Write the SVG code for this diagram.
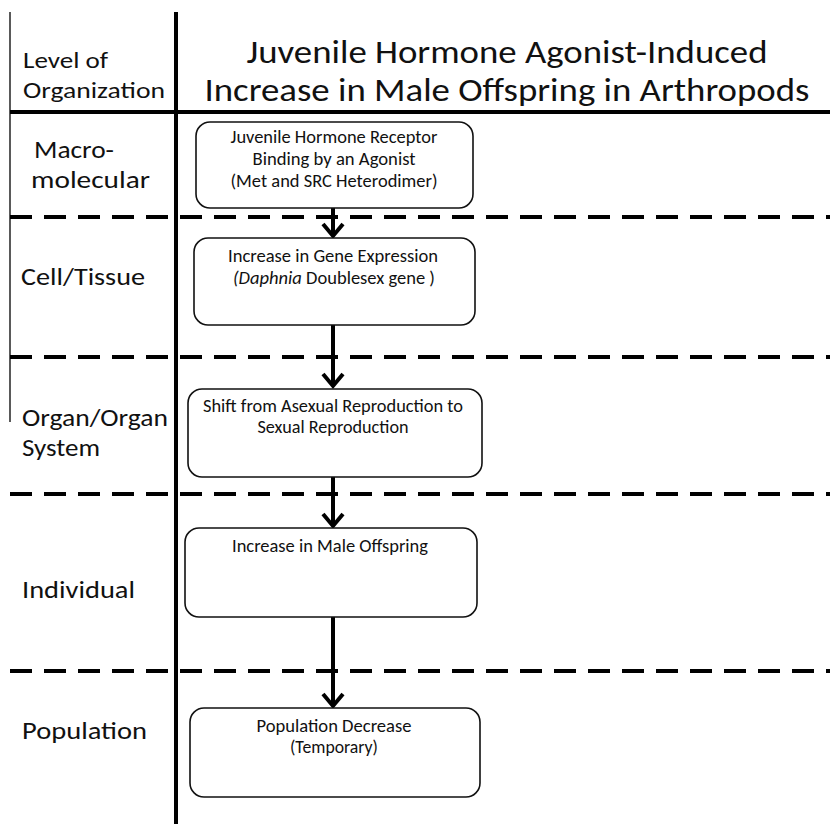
<svg xmlns="http://www.w3.org/2000/svg" width="830" height="824" viewBox="0 0 830 824">
  <style>
    text { font-family: Carlito, Lato, "Noto Sans", sans-serif; fill: #111; }
    .title { font-size: 33px; text-anchor: middle; }
    .level { font-size: 24px; }
    .head { font-size: 23px; }
    .node rect { fill: #fff; stroke: #111; stroke-width: 1.6; }
    .node text { font-size: 17.5px; text-anchor: middle; }
    .rule { stroke: #000; stroke-width: 4; fill: none; }
    .dash { stroke: #000; stroke-width: 4; stroke-dasharray: 22 12; fill: none; }
    .conn line { stroke: #000; stroke-width: 4; }
    .conn path { stroke: #000; stroke-width: 4; fill: none; stroke-linejoin: miter; }
  </style>
  <rect width="830" height="824" fill="#fff"/>

  <!-- table frame -->
  <g id="frame">
    <line x1="10" y1="12" x2="10" y2="422" stroke="#000" stroke-width="1.3"/>
    <line class="rule" x1="176" y1="12" x2="176" y2="824"/>
    <line class="rule" x1="10" y1="112" x2="830" y2="112"/>
    <line class="dash" x1="10" y1="217" x2="830" y2="217"/>
    <line class="dash" x1="10" y1="357" x2="830" y2="357"/>
    <line class="dash" x1="10" y1="494" x2="830" y2="494"/>
    <line class="dash" x1="10" y1="671" x2="830" y2="671"/>
  </g>

  <!-- column headings and title -->
  <g id="header">
    <text class="head" x="23" y="68" textLength="85" lengthAdjust="spacingAndGlyphs">Level of</text>
    <text class="head" x="23" y="98" textLength="142" lengthAdjust="spacingAndGlyphs">Organization</text>
    <text class="title" x="507" y="63" textLength="521" lengthAdjust="spacingAndGlyphs">Juvenile Hormone Agonist-Induced</text>
    <text class="title" x="507" y="101" textLength="605" lengthAdjust="spacingAndGlyphs">Increase in Male Offspring in Arthropods</text>
  </g>

  <!-- level labels -->
  <g id="levels">
    <text class="level" x="34" y="158" textLength="80" lengthAdjust="spacingAndGlyphs">Macro-</text>
    <text class="level" x="31" y="188" textLength="119" lengthAdjust="spacingAndGlyphs">molecular</text>
    <text class="level" x="21" y="285" textLength="124" lengthAdjust="spacingAndGlyphs">Cell/Tissue</text>
    <text class="level" x="22" y="426" textLength="146" lengthAdjust="spacingAndGlyphs">Organ/Organ</text>
    <text class="level" x="22" y="456" textLength="78" lengthAdjust="spacingAndGlyphs">System</text>
    <text class="level" x="22" y="598" textLength="113" lengthAdjust="spacingAndGlyphs">Individual</text>
    <text class="level" x="22" y="739" textLength="125" lengthAdjust="spacingAndGlyphs">Population</text>
  </g>

  <!-- connectors -->
  <g id="connectors" class="conn">
    <line x1="333" y1="208" x2="333" y2="236"/>
    <path d="M323 224 L333 236 L343 224"/>
    <line x1="333" y1="325" x2="333" y2="386"/>
    <path d="M323 374 L333 386 L343 374"/>
    <line x1="333" y1="477" x2="333" y2="526"/>
    <path d="M323 514 L333 526 L343 514"/>
    <line x1="333" y1="617" x2="333" y2="706"/>
    <path d="M323 694 L333 706 L343 694"/>
  </g>

  <!-- nodes -->
  <g id="n-receptor" class="node">
    <rect x="196" y="122" width="277" height="86" rx="14"/>
    <text x="334" y="143" textLength="207" lengthAdjust="spacingAndGlyphs">Juvenile Hormone  Receptor</text>
    <text x="334" y="165" textLength="163" lengthAdjust="spacingAndGlyphs">Binding by an Agonist</text>
    <text x="334" y="187" textLength="207" lengthAdjust="spacingAndGlyphs">(Met and SRC Heterodimer)</text>
  </g>
  <g id="n-gene" class="node">
    <rect x="194" y="238" width="281" height="87" rx="14"/>
    <text x="333" y="262" textLength="210" lengthAdjust="spacingAndGlyphs">Increase in Gene Expression</text>
    <text x="334" y="284" textLength="202" lengthAdjust="spacingAndGlyphs"><tspan font-style="italic">(Daphnia</tspan> Doublesex gene )</text>
  </g>
  <g id="n-shift" class="node">
    <rect x="188" y="389" width="294" height="88" rx="14"/>
    <text x="333" y="412" textLength="260" lengthAdjust="spacingAndGlyphs">Shift from  Asexual Reproduction to</text>
    <text x="333" y="433" textLength="151" lengthAdjust="spacingAndGlyphs">Sexual Reproduction</text>
  </g>
  <g id="n-male" class="node">
    <rect x="185" y="528" width="292" height="89" rx="14"/>
    <text x="330" y="552" textLength="196" lengthAdjust="spacingAndGlyphs">Increase in Male Offspring</text>
  </g>
  <g id="n-population" class="node">
    <rect x="190" y="708" width="290" height="89" rx="14"/>
    <text x="334" y="732" textLength="155" lengthAdjust="spacingAndGlyphs">Population Decrease</text>
    <text x="334" y="753" textLength="88" lengthAdjust="spacingAndGlyphs">(Temporary)</text>
  </g>
</svg>
